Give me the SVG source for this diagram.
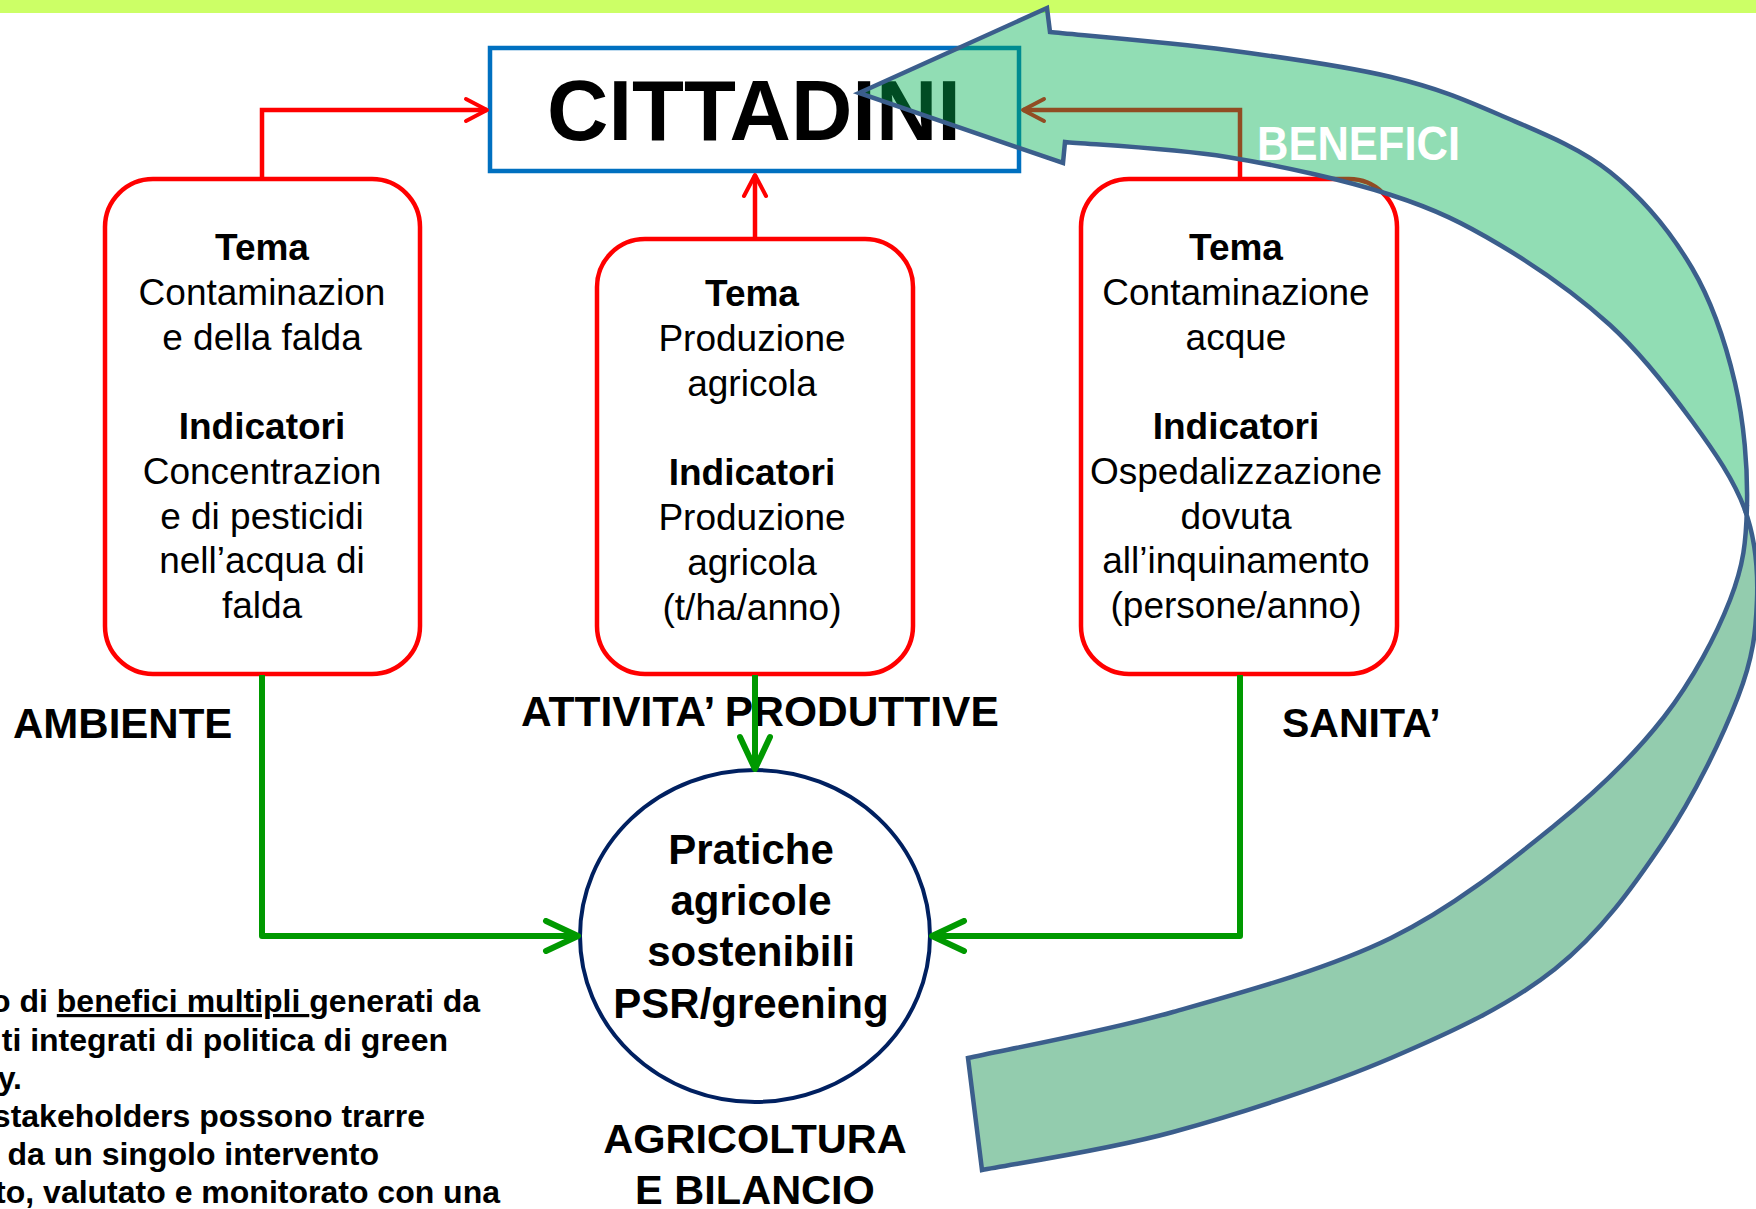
<svg xmlns="http://www.w3.org/2000/svg" width="1756" height="1209" viewBox="0 0 1756 1209">
<defs>
<style>
.t{font-family:"Liberation Sans",Arial,sans-serif;font-size:37px;text-anchor:middle;fill:#000}
.b{font-weight:bold}
.lbl{font-family:"Liberation Sans",Arial,sans-serif;font-weight:bold;font-size:42px;fill:#000}
.box{fill:#fff;stroke:#ff0000;stroke-width:4.5}
.red{fill:none;stroke:#ff0000;stroke-width:4.5;stroke-linejoin:miter}
.grn{fill:none;stroke:#009900;stroke-width:6;stroke-linejoin:round}
.arw{stroke:#3b5e8c;stroke-width:4.5;stroke-linejoin:miter}
.note{font-family:"Liberation Sans",Arial,sans-serif;font-weight:bold;font-size:32px;text-anchor:end;fill:#000}
</style>
<marker id="mr" markerUnits="userSpaceOnUse" viewBox="0 0 28 28" refX="24" refY="14" markerWidth="28" markerHeight="28" orient="auto">
<path d="M3,3 L24,14 L3,25" fill="none" stroke="#ff0000" stroke-width="4" stroke-linecap="round" stroke-linejoin="round"/>
</marker>
<marker id="mg" markerUnits="userSpaceOnUse" viewBox="0 0 40 36" refX="36" refY="18" markerWidth="40" markerHeight="36" orient="auto">
<path d="M4,3 L36,18 L4,33" fill="none" stroke="#009900" stroke-width="6" stroke-linecap="round" stroke-linejoin="round"/>
</marker>
</defs>
<rect x="0" y="0" width="1756" height="1209" fill="#fff"/>
<rect x="0" y="0" width="1756" height="13" fill="#ccff66"/>

<g id="cittadini">
<rect x="490" y="48" width="529" height="123" fill="#fff" stroke="#0070c0" stroke-width="4.5"/>
<text class="lbl" x="754" y="140" text-anchor="middle" style="font-size:85px">CITTADINI</text>
</g>

<g id="box-ambiente">
<rect class="box" x="105" y="179" width="315" height="495" rx="48" ry="48"/>
<text class="t b" x="262" y="260">Tema</text>
<text class="t" x="262" y="305">Contaminazion</text>
<text class="t" x="262" y="349.5">e della falda</text>
<text class="t b" x="262" y="439">Indicatori</text>
<text class="t" x="262" y="484">Concentrazion</text>
<text class="t" x="262" y="528.5">e di pesticidi</text>
<text class="t" x="262" y="573">nell’acqua di</text>
<text class="t" x="262" y="618">falda</text>
</g>

<g id="box-attivita">
<rect class="box" x="597" y="239" width="316" height="435" rx="48" ry="48"/>
<text class="t b" x="752" y="306">Tema</text>
<text class="t" x="752" y="351">Produzione</text>
<text class="t" x="752" y="396">agricola</text>
<text class="t b" x="752" y="485">Indicatori</text>
<text class="t" x="752" y="530">Produzione</text>
<text class="t" x="752" y="575">agricola</text>
<text class="t" x="752" y="620">(t/ha/anno)</text>
</g>

<g id="box-sanita">
<rect class="box" x="1081" y="179" width="316" height="495" rx="48" ry="48"/>
<text class="t b" x="1236" y="260">Tema</text>
<text class="t" x="1236" y="305">Contaminazione</text>
<text class="t" x="1236" y="349.5">acque</text>
<text class="t b" x="1236" y="439">Indicatori</text>
<text class="t" x="1236" y="484">Ospedalizzazione</text>
<text class="t" x="1236" y="528.5">dovuta</text>
<text class="t" x="1236" y="573">all’inquinamento</text>
<text class="t" x="1236" y="618">(persone/anno)</text>
</g>

<g id="pratiche">
<ellipse cx="755" cy="936" rx="175" ry="166" fill="#fff" stroke="#002060" stroke-width="4"/>
<text class="lbl" x="751" y="864" text-anchor="middle">Pratiche</text>
<text class="lbl" x="751" y="915" text-anchor="middle">agricole</text>
<text class="lbl" x="751" y="966" text-anchor="middle">sostenibili</text>
<text class="lbl" x="751" y="1018" text-anchor="middle">PSR/greening</text>
</g>

<g id="labels">
<text class="lbl" x="13" y="738">AMBIENTE</text>
<text class="lbl" x="521" y="726" style="font-size:42.5px">ATTIVITA’ PRODUTTIVE</text>
<text class="lbl" x="1282" y="737" style="font-size:41px">SANITA’</text>
<text class="lbl" x="755" y="1153" text-anchor="middle" style="font-size:41.5px">AGRICOLTURA</text>
<text class="lbl" x="755" y="1204" text-anchor="middle" style="font-size:41.5px">E BILANCIO</text>
</g>

<g id="connectors">
<path class="red" d="M262,179 V110 H487" marker-end="url(#mr)"/>
<path class="red" d="M755,239 V175" marker-end="url(#mr)"/>
<path class="red" d="M1240,179 V110 H1023" marker-end="url(#mr)"/>
<path class="grn" d="M262,675 V936 H578" marker-end="url(#mg)"/>
<path class="grn" d="M755,675 V769" marker-end="url(#mg)"/>
<path class="grn" d="M1240,675 V936 H932" marker-end="url(#mg)"/>
</g>

<g id="benefici-arrow">
<path class="arw" fill="#93ccae" d="M1747,505 C1746.2,541.2 1743.8,564.7 1730,600 C1716.2,635.3 1693.2,679.5 1664,717 C1634.8,754.5 1600.5,788.2 1555,825 C1509.5,861.8 1454.7,906.8 1391,938 C1327.3,969.2 1243.5,992 1173,1012 C1102.5,1032 1002.2,1050.3 968,1058 L982,1170 C1013.8,1163.7 1104.8,1150.7 1173,1132 C1241.2,1113.3 1327.3,1085.2 1391,1058 C1454.7,1030.8 1509.5,1005.2 1555,969 C1600.5,932.8 1633.5,886.3 1664,841 C1694.5,795.7 1722.5,737.2 1738,697 C1753.5,656.8 1755.8,631.2 1757,600 C1758.2,568.8 1755.8,539.8 1745,510 Z"/>
<path class="arw" fill="#00b050" fill-opacity="0.43" d="M859,93 L1047,8 L1050,32 C1079.5,35 1170.2,42.5 1227,50 C1283.8,57.5 1345.5,66.2 1391,77 C1436.5,87.8 1463.5,99.2 1500,115 C1536.5,130.8 1578,146.5 1610,172 C1642,197.5 1671.2,232.8 1692,268 C1712.8,303.2 1725.8,343.5 1735,383 C1744.2,422.5 1747.8,468.8 1747,505 L1745,510 C1734.2,480.2 1714.5,451.8 1692,421 C1669.5,390.2 1642,354.3 1610,325 C1578,295.7 1536.5,266.7 1500,245 C1463.5,223.3 1436.5,209.7 1391,195 C1345.5,180.3 1281.3,165.8 1227,157 C1172.7,148.2 1092,144.5 1065,142 L1063,163 Z"/>
<text x="1257" y="160" textLength="203" lengthAdjust="spacingAndGlyphs" style="font-family:'Liberation Sans',Arial,sans-serif;font-weight:bold;font-size:48px;fill:#fff">BENEFICI</text>
</g>

<g id="note">
<text class="note" x="480" y="1012">o di <tspan text-decoration="underline">benefici multipli </tspan>generati da</text>
<text class="note" x="448" y="1051">ti integrati di politica di green</text>
<text class="note" x="22" y="1089">y.</text>
<text class="note" x="425" y="1127">stakeholders possono trarre</text>
<text class="note" x="379" y="1165">da un singolo intervento</text>
<text class="note" x="500" y="1203">to, valutato e monitorato con una</text>
</g>
</svg>
